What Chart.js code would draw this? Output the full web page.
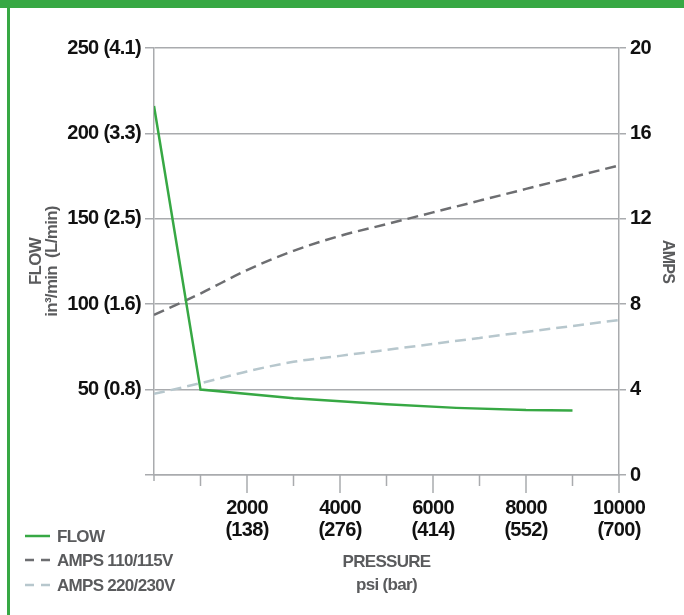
<!DOCTYPE html>
<html>
<head>
<meta charset="utf-8">
<script src="https://cdn.jsdelivr.net/npm/chart.js@4.4.1/dist/chart.umd.min.js"></script>
<style>
  html, body { margin: 0; padding: 0; background: #fff; }
  #wrap { width: 684px; height: 615px; }
</style>
</head>
<body>
<div id="wrap"><canvas id="pumpChart" width="684" height="615"></canvas></div>
<script>
// pressure (psi) / flow / amps
var ampsPressure = [0, 1000, 2000, 3000, 4000, 5000, 6000, 7000, 8000, 9000, 10000];
var amps110 = [7.5, 8.5, 9.6, 10.5, 11.2, 11.75, 12.3, 12.85, 13.4, 13.95, 14.5];
var amps220 = [3.8, 4.3, 4.85, 5.3, 5.58, 5.86, 6.14, 6.42, 6.7, 6.98, 7.26];

var flowPressure = [0, 1000, 3000, 5000, 6500, 8000, 9000];
var flowValues = [216, 50, 45, 41.4, 39.3, 38, 37.8];

// tick labels
var flowTicks = [0, 50, 100, 150, 200, 250];
var flowTickLabels = ['', '50 (0.8)', '100 (1.6)', '150 (2.5)', '200 (3.3)', '250 (4.1)'];
var psiTicks = [2000, 4000, 6000, 8000, 10000];
var barTickLabels = ['(138)', '(276)', '(414)', '(552)', '(700)'];

var seriesNames = ['FLOW', 'AMPS 110/115V', 'AMPS 220/230V'];

var GREEN = '#37a844';
var GRID = '#a9abae';
var TITLE = '#5a5b5d';
var FONT = "'Liberation Sans', Arial, sans-serif";

Chart.defaults.font.family = FONT;
Chart.defaults.font.weight = 'bold';
Chart.defaults.color = '#111';

function toPoints(xs, ys) {
    return xs.map(function (x, i) { return { x: x, y: ys[i] }; });
}

//-------------
//- FRAME + LEGEND + X TICKS -
//-------------
// tighter letters so the sans looks more like the condensed type of the sheet
function tighten(chart) { chart.ctx.letterSpacing = '-0.7px'; }

var sheetPlugin = {
    id: 'sheet',
    beforeUpdate: tighten,
    beforeLayout: tighten,
    beforeDraw: function (chart) {
        tighten(chart);
        var ctx = chart.ctx;
        ctx.save();
        ctx.fillStyle = '#fff';
        ctx.fillRect(0, 0, chart.width, chart.height);
        ctx.fillStyle = GREEN;
        ctx.fillRect(0, 0, chart.width, 8);
        ctx.fillRect(7, 0, 3, chart.height);
        ctx.restore();
    },
    afterDraw: function (chart) {
        var ctx = chart.ctx;
        var xs = chart.scales.x;
        ctx.save();

        // x tick marks, three lengths
        ctx.strokeStyle = GRID;
        ctx.lineWidth = 1.5;
        xs.ticks.forEach(function (t) {
            var px = xs.getPixelForValue(t.value);
            var len = t.value === 0 ? 6 : (t.value % 2000 === 0 ? 18 : 11);
            ctx.beginPath();
            ctx.moveTo(px, xs.top);
            ctx.lineTo(px, xs.top + len);
            ctx.stroke();
        });

        // legend bottom left
        var rows = [536, 560, 585];
        ctx.font = 'bold 17px ' + FONT;
        ctx.textBaseline = 'middle';
        chart.data.datasets.forEach(function (ds, i) {
            ctx.strokeStyle = ds.borderColor;
            ctx.lineWidth = 2.5;
            ctx.setLineDash(i === 0 ? [] : [9, 7]);
            ctx.beginPath();
            ctx.moveTo(25, rows[i]);
            ctx.lineTo(50, rows[i]);
            ctx.stroke();
            ctx.setLineDash([]);
            ctx.fillStyle = TITLE;
            ctx.fillText(ds.label, 57, rows[i] + 1);
        });
        ctx.restore();
    }
};

var ctx = document.getElementById('pumpChart').getContext('2d');

new Chart(ctx, {
    type: 'line',
    data: {
        datasets: [
            {
                label: seriesNames[0],
                data: toPoints(flowPressure, flowValues),
                borderColor: GREEN,
                borderWidth: 2.5,
                pointRadius: 0,
                tension: 0,
                yAxisID: 'y'
            },
            {
                label: seriesNames[1],
                data: toPoints(ampsPressure, amps110),
                borderColor: '#6d6e71',
                borderWidth: 2.5,
                borderDash: [11, 6],
                pointRadius: 0,
                cubicInterpolationMode: 'monotone',
                yAxisID: 'y2'
            },
            {
                label: seriesNames[2],
                data: toPoints(ampsPressure, amps220),
                borderColor: '#b7c7cd',
                borderWidth: 2.5,
                borderDash: [11, 6],
                pointRadius: 0,
                cubicInterpolationMode: 'monotone',
                yAxisID: 'y2'
            }
        ]
    },
    options: {
        responsive: false,
        animation: false,
        devicePixelRatio: 1,
        layout: { padding: { top: 48, left: 0, right: 0, bottom: 0 } },
        plugins: {
            legend: { display: false },
            tooltip: { enabled: false }
        },
        scales: {
            x: {
                type: 'linear',
                position: 'bottom',
                min: 0,
                max: 10000,
                grid: { display: false, drawTicks: false },
                border: { display: true, color: GRID, width: 1.5 },
                ticks: {
                    stepSize: 1000,
                    padding: 22,
                    maxRotation: 0,
                    autoSkip: false,
                    font: { size: 20, lineHeight: 1.1 },
                    callback: function (value) {
                        var i = psiTicks.indexOf(value);
                        return i < 0 ? '' : [String(psiTicks[i]), barTickLabels[i]];
                    }
                },
                title: {
                    display: true,
                    text: ['PRESSURE', 'psi (bar)'],
                    color: TITLE,
                    font: { size: 17, lineHeight: 1.35 },
                    padding: { top: 0, bottom: 18 }
                },
                afterFit: function (scale) { scale.height = 140; }
            },
            y: {
                type: 'linear',
                position: 'left',
                min: 0,
                max: 250,
                grid: { color: GRID, lineWidth: 1.5, tickLength: 9 },
                border: { display: true, color: GRID, width: 1.5 },
                ticks: {
                    stepSize: 50,
                    padding: 4,
                    font: { size: 20 },
                    callback: function (value) {
                        var i = flowTicks.indexOf(value);
                        return i < 0 ? '' : flowTickLabels[i];
                    }
                },
                title: {
                    display: true,
                    text: ['FLOW', 'in\u00b3/min  (L/min)'],
                    color: TITLE,
                    font: { size: 17, lineHeight: 0.95 },
                    padding: { top: 28, bottom: 0 }
                },
                afterFit: function (scale) { scale.width = 154; }
            },
            y2: {
                type: 'linear',
                position: 'right',
                min: 0,
                max: 20,
                grid: { drawOnChartArea: false, color: GRID, lineWidth: 1.5, tickLength: 7 },
                border: { display: true, color: GRID, width: 1.5 },
                ticks: {
                    stepSize: 4,
                    padding: 4,
                    font: { size: 20 }
                },
                title: {
                    display: true,
                    text: 'AMPS',
                    color: TITLE,
                    font: { size: 16, lineHeight: 1 },
                    padding: { top: 9, bottom: 0 }
                },
                afterFit: function (scale) { scale.width = 65; }
            }
        }
    },
    plugins: [sheetPlugin]
});
</script>
</body>
</html>
